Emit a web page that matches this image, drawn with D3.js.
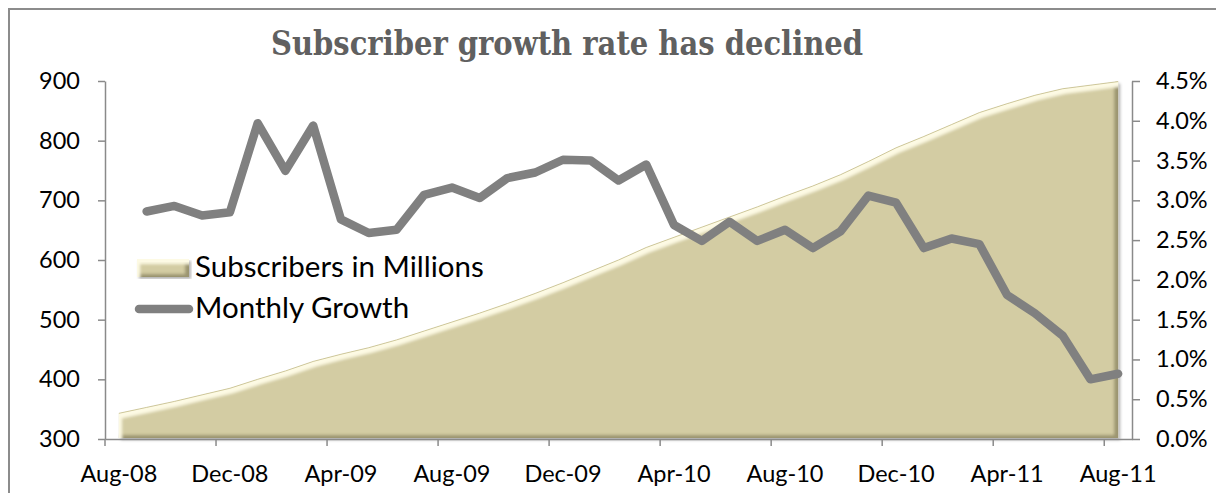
<!DOCTYPE html>
<html>
<head>
<meta charset="utf-8">
<script src="https://cdn.jsdelivr.net/npm/d3@7"></script>
<style>
  html, body { margin: 0; padding: 0; background: #ffffff; }
  svg { display: block; }
  .axis text { font-family: Lato, "Open Sans", sans-serif; font-size: 23.5px; fill: #000; }
  .axis path, .axis line { stroke: #8a8a8a; stroke-width: 1.5px; }
</style>
</head>
<body>
<script>
// Monthly categories
const months = ["Aug-08","Sep-08","Oct-08","Nov-08","Dec-08","Jan-09","Feb-09","Mar-09","Apr-09","May-09",
  "Jun-09","Jul-09","Aug-09","Sep-09","Oct-09","Nov-09","Dec-09","Jan-10","Feb-10","Mar-10","Apr-10",
  "May-10","Jun-10","Jul-10","Aug-10","Sep-10","Oct-10","Nov-10","Dec-10","Jan-11","Feb-11","Mar-11",
  "Apr-11","May-11","Jun-11","Jul-11","Aug-11"];

// Subscribers in millions (left axis)
const subscribers = [343, 353, 363, 374, 385, 400, 414, 430, 442, 453, 466, 481, 496, 511, 527, 544, 562,
  581, 600, 621, 638, 655, 672, 689, 707, 724, 743, 765, 788, 807, 827, 847, 862, 876, 887, 893, 899];

// Month-over-month growth in percent (right axis); no value for the first month
const growth = [null, 2.86, 2.93, 2.81, 2.85, 3.97, 3.37, 3.94, 2.76, 2.59, 2.63, 3.07, 3.16, 3.03, 3.28,
  3.35, 3.51, 3.50, 3.25, 3.45, 2.69, 2.49, 2.73, 2.49, 2.63, 2.40, 2.61, 3.06, 2.97, 2.40, 2.52, 2.45,
  1.81, 1.58, 1.30, 0.75, 0.82];

// Axis ticks
const xTickLabels = ["Aug-08","Dec-08","Apr-09","Aug-09","Dec-09","Apr-10","Aug-10","Dec-10","Apr-11","Aug-11"];
const leftTicks = [300, 400, 500, 600, 700, 800, 900];
const rightTicks = [0, 0.5, 1, 1.5, 2, 2.5, 3, 3.5, 4, 4.5];

const title = "Subscriber growth rate has declined";
const legendLabels = ["Subscribers in Millions", "Monthly Growth"];

const W = 1225, H = 493;
const plot = { left: 105, right: 1132, top: 81, bottom: 439 };

const svg = d3.select("body").append("svg").attr("width", W).attr("height", H);

// Bevel + shadow filter for the area series
const defs = svg.append("defs");
const f = defs.append("filter").attr("id", "bevel")
  .attr("x", "-5%").attr("y", "-5%").attr("width", "110%").attr("height", "115%");
f.append("feGaussianBlur").attr("in", "SourceAlpha").attr("stdDeviation", 1.8).attr("result", "blur");
f.append("feOffset").attr("in", "blur").attr("dx", 3).attr("dy", 4.5).attr("result", "offDown");
f.append("feComposite").attr("in", "SourceAlpha").attr("in2", "offDown").attr("operator", "out").attr("result", "rimHi");
f.append("feFlood").attr("flood-color", "#fdfae4").attr("flood-opacity", 1).attr("result", "hiCol");
f.append("feComposite").attr("in", "hiCol").attr("in2", "rimHi").attr("operator", "in").attr("result", "hi");
f.append("feOffset").attr("in", "blur").attr("dx", -4).attr("dy", -3).attr("result", "offUp");
f.append("feComposite").attr("in", "SourceAlpha").attr("in2", "offUp").attr("operator", "out").attr("result", "rimSh");
f.append("feFlood").attr("flood-color", "#6f6842").attr("flood-opacity", 0.65).attr("result", "shCol");
f.append("feComposite").attr("in", "shCol").attr("in2", "rimSh").attr("operator", "in").attr("result", "sh");
f.append("feGaussianBlur").attr("in", "SourceAlpha").attr("stdDeviation", 1.8).attr("result", "b2");
f.append("feOffset").attr("in", "b2").attr("dx", 2).attr("dy", 2).attr("result", "dsOff");
f.append("feFlood").attr("flood-color", "#000").attr("flood-opacity", 0.3).attr("result", "dsCol");
f.append("feComposite").attr("in", "dsCol").attr("in2", "dsOff").attr("operator", "in").attr("result", "ds");
const m = f.append("feMerge");
["ds", "SourceGraphic", "sh", "hi"].forEach(n => m.append("feMergeNode").attr("in", n));

// Chart frame
svg.append("path")
  .attr("d", `M9,${H} V9 H1216`)
  .attr("fill", "none").attr("stroke", "#8c8c8c").attr("stroke-width", 2);

// Scales
const x = d3.scaleBand().domain(months).range([plot.left, plot.right]).padding(0);
const cx = d => x(d) + x.bandwidth() / 2;
const yL = d3.scaleLinear().domain([300, 900]).range([plot.bottom, plot.top]);
const yR = d3.scaleLinear().domain([0, 4.5]).range([plot.bottom, plot.top]);

// Area series
const area = d3.area()
  .x((d, i) => cx(months[i]))
  .y0(yL(300) - 1)
  .y1(d => yL(d));
svg.append("path")
  .datum(subscribers)
  .attr("d", area)
  .attr("fill", "#d3cca3")
  .attr("filter", "url(#bevel)");
// thin darker rim along the top of the area
svg.append("path")
  .datum(subscribers)
  .attr("d", d3.line().x((d, i) => cx(months[i])).y(d => yL(d)))
  .attr("fill", "none")
  .attr("stroke", "#c4bc8a")
  .attr("stroke-width", 0.8);

// Axes
svg.append("g").attr("class", "axis")
  .attr("transform", `translate(${plot.left},0)`)
  .call(d3.axisLeft(yL).tickValues(leftTicks).tickSize(7).tickSizeOuter(0).tickPadding(18).tickFormat(d3.format("d")));

svg.append("g").attr("class", "axis")
  .attr("transform", `translate(${plot.right},0)`)
  .call(d3.axisRight(yR).tickValues(rightTicks).tickSize(8).tickSizeOuter(0).tickPadding(16)
    .tickFormat(d => d.toFixed(1) + "%"));

const gX = svg.append("g").attr("class", "axis")
  .attr("transform", `translate(0,${plot.bottom})`)
  .call(d3.axisBottom(x).tickValues(xTickLabels).tickSize(0).tickSizeOuter(0).tickPadding(26));
gX.selectAll(".tick line").remove();
// tick marks sit on the category boundaries
gX.selectAll(".bnd").data(xTickLabels).enter().append("line")
  .attr("x1", d => x(d)).attr("x2", d => x(d))
  .attr("y1", 0).attr("y2", 7);

// Growth line
const line = d3.line()
  .defined(d => d != null)
  .x((d, i) => cx(months[i]))
  .y(d => yR(d));
svg.append("path")
  .datum(growth)
  .attr("d", line)
  .attr("fill", "none")
  .attr("stroke", "#808080")
  .attr("stroke-width", 8.5)
  .attr("stroke-linejoin", "round")
  .attr("stroke-linecap", "round");

// Title
const t = svg.append("text")
  .attr("x", 271).attr("y", 55)
  .attr("font-family", "Georgia, 'DejaVu Serif', serif")
  .attr("font-weight", "bold")
  .attr("font-size", 34)
  .attr("fill", "#606060")
  .text(title);
const tw = t.node().getComputedTextLength();
if (tw > 592) t.attr("textLength", 592).attr("lengthAdjust", "spacingAndGlyphs");

// Legend
const lg = svg.append("g");
lg.append("rect")
  .attr("x", 137).attr("y", 259).attr("width", 52).attr("height", 18)
  .attr("fill", "#d3cca3").attr("filter", "url(#bevel)");
lg.append("line")
  .attr("x1", 139).attr("x2", 189).attr("y1", 309).attr("y2", 309)
  .attr("stroke", "#808080").attr("stroke-width", 8.5).attr("stroke-linecap", "round");
lg.selectAll("text.lab").data(legendLabels).enter().append("text")
  .attr("class", "lab")
  .attr("x", 195)
  .attr("y", (d, i) => i === 0 ? 277 : 318)
  .attr("font-family", "Lato, 'Open Sans', sans-serif")
  .attr("font-size", 29.5)
  .attr("fill", "#000")
  .text(d => d);
</script>
</body>
</html>
